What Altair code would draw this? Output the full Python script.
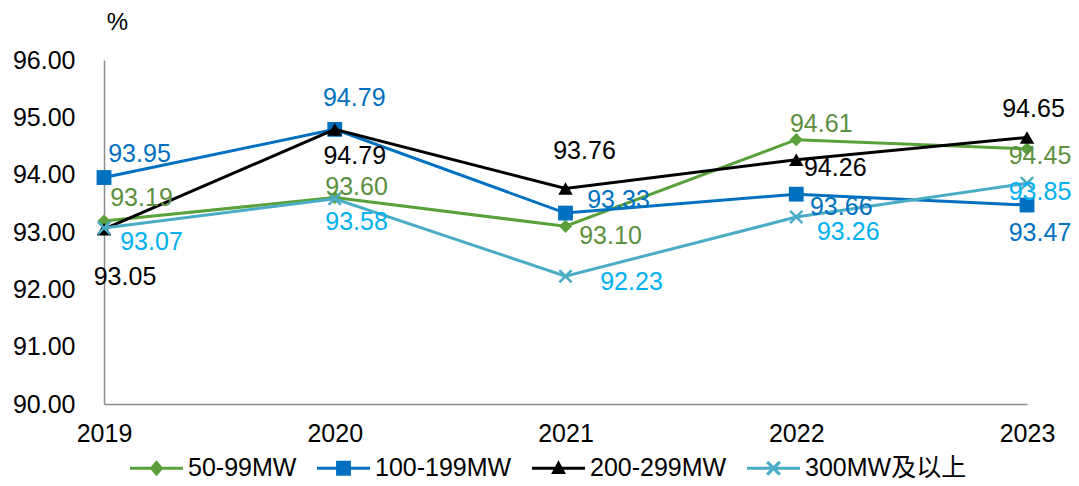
import altair as alt
import pandas as pd
import numpy as np

# ---- data ----
years = ["2019", "2020", "2021", "2022", "2023"]
series_names = ["50-99MW", "100-199MW", "200-299MW", "300MW及以上"]
v_50_99 = [93.19, 93.60, 93.10, 94.61, 94.45]
v_100_199 = [93.95, 94.79, 93.33, 93.66, 93.47]
v_200_299 = [93.05, 94.79, 93.76, 94.26, 94.65]
v_300_plus = [93.07, 93.58, 92.23, 93.26, 93.85]
y_ticks = [90, 91, 92, 93, 94, 95, 96]

values = [v_50_99, v_100_199, v_200_299, v_300_plus]
rows = []
for name, vals in zip(series_names, values):
    for yr, v in zip(years, vals):
        rows.append({"year": yr, "series": name, "value": v})
df = pd.DataFrame(rows)

# ---- styling ----
FONT = "Arial, 'Liberation Sans', 'Noto Sans CJK SC', sans-serif"
line_colors = ["#5AA13B", "#0070C0", "#000000", "#4BACC6"]
label_colors = ["#5D8F40", "#0070C0", "#000000", "#00B0F0"]

# label offsets (pixels) per series / year
label_offsets = {
    "50-99MW": [(37.5, -23.5), (21.8, -11), (45, 10), (25, -16), (13, 7)],
    "100-199MW": [(35.5, -24), (19.5, -31), (53, -13.5), (45, 12.5), (13, 28)],
    "200-299MW": [(21, 47.5), (20, 27), (19, -37), (39, 8), (6.5, -28)],
    "300MW及以上": [(47.5, 13.6), (21.8, 23), (66, 5.5), (52, 14.5), (13, 9)],
}

X_PATH = "M-1,-1L1,1M-1,1L1,-1"


def fmt(v):
    return f"{v:.4f}".rstrip("0").rstrip(".")


def poly(pts):
    return "M" + "L".join(f"{fmt(x)},{fmt(y)}" for x, y in pts) + "Z"


t = 0.057
bar = poly([(-1, -t), (1, -t), (1, t), (-1, t)])
diamond = poly([(0, -0.3), (0.26, 0), (0, 0.3), (-0.26, 0)])
square = poly([(-0.28, -0.28), (0.28, -0.28), (0.28, 0.28), (-0.28, 0.28)])
triangle = poly([(0, -0.3), (0.28, 0.22), (-0.28, 0.22)])
L, w = 0.34, 0.06
plus = [(w, -L), (w, -w), (L, -w), (L, w), (w, w), (w, L), (-w, L), (-w, w),
        (-L, w), (-L, -w), (-w, -w), (-w, -L)]
s2 = np.sqrt(2)
xcross = poly([((px - py) / s2, (px + py) / s2) for px, py in plus])
legend_paths = [bar + m for m in (diamond, square, triangle, xcross)]

marker_defs = [
    dict(shape="diamond", filled=True, size=175),
    dict(shape="square", filled=True, size=220),
    dict(shape="triangle-up", filled=True, size=210),
    dict(shape=X_PATH, filled=False, size=150, strokeWidth=2.5),
]

x_enc = alt.X(
    "year:O",
    sort=years,
    scale=alt.Scale(type="point", padding=0),
    axis=alt.Axis(
        title=None, labelAngle=0, ticks=False, labelPadding=17,
        domainColor="#8C8C8C", domainWidth=1.5,
    ),
)
y_enc = alt.Y(
    "value:Q",
    scale=alt.Scale(domain=[90, 96], nice=False, zero=False),
    axis=alt.Axis(
        values=y_ticks, format=".2f", ticks=False, labelPadding=29,
        domainColor="#8C8C8C", domainWidth=1.5,
        title="%", titleAngle=0, titleX=13, titleY=-38, titleAlign="center",
        titleBaseline="middle", titleFontSize=24, titleFontWeight="normal",
        titleColor="#000000", titleFont=FONT,
    ),
)

base = alt.Chart(df)
layers = []
for i, name in enumerate(series_names):
    sub = base.transform_filter(alt.datum.series == name)
    layers.append(
        sub.mark_line(color=line_colors[i], strokeWidth=3).encode(x=x_enc, y=y_enc)
    )
    md = marker_defs[i]
    layers.append(
        sub.mark_point(color=line_colors[i], opacity=1, **md).encode(x=x_enc, y=y_enc)
    )

for i, name in enumerate(series_names):
    for j, yr in enumerate(years):
        dx, dy = label_offsets[name][j]
        layers.append(
            base.transform_filter((alt.datum.series == name) & (alt.datum.year == yr))
            .mark_text(
                dx=dx, dy=dy, align="center", baseline="middle",
                fontSize=25, font=FONT, color=label_colors[i],
            )
            .encode(x=x_enc, y=y_enc, text=alt.Text("value:Q", format=".2f"))
        )

legend_props = dict(
    title=None, orient="none", legendX=26, legendY=381.5, direction="horizontal",
    columns=4, symbolSize=2809, symbolStrokeWidth=0, labelFontSize=25,
    labelFont=FONT, labelColor="#000000", labelOffset=5, columnPadding=20,
    padding=0, labelLimit=0,
)
legend_layer = (
    base.transform_filter("false")
    .mark_point(filled=True, opacity=1, strokeWidth=0)
    .encode(
        x=x_enc,
        y=y_enc,
        color=alt.Color(
            "series:N",
            scale=alt.Scale(domain=series_names, range=line_colors),
            legend=alt.Legend(**legend_props),
        ),
        shape=alt.Shape(
            "series:N",
            scale=alt.Scale(domain=series_names, range=legend_paths),
            legend=alt.Legend(**legend_props),
        ),
    )
)
layers.append(legend_layer)

chart = (
    alt.layer(*layers)
    .properties(
        width=923,
        height=344,
        autosize=alt.AutoSizeParams(type="none"),
        padding={"left": 96, "top": 52, "right": 44, "bottom": 78},
    )
    .configure(font=FONT)
    .configure_view(stroke=None)
    .configure_axis(
        grid=False, labelFontSize=25, labelColor="#000000", labelFont=FONT,
    )
)

chart.save("out.html", embed_options={"renderer": "svg", "actions": False})
